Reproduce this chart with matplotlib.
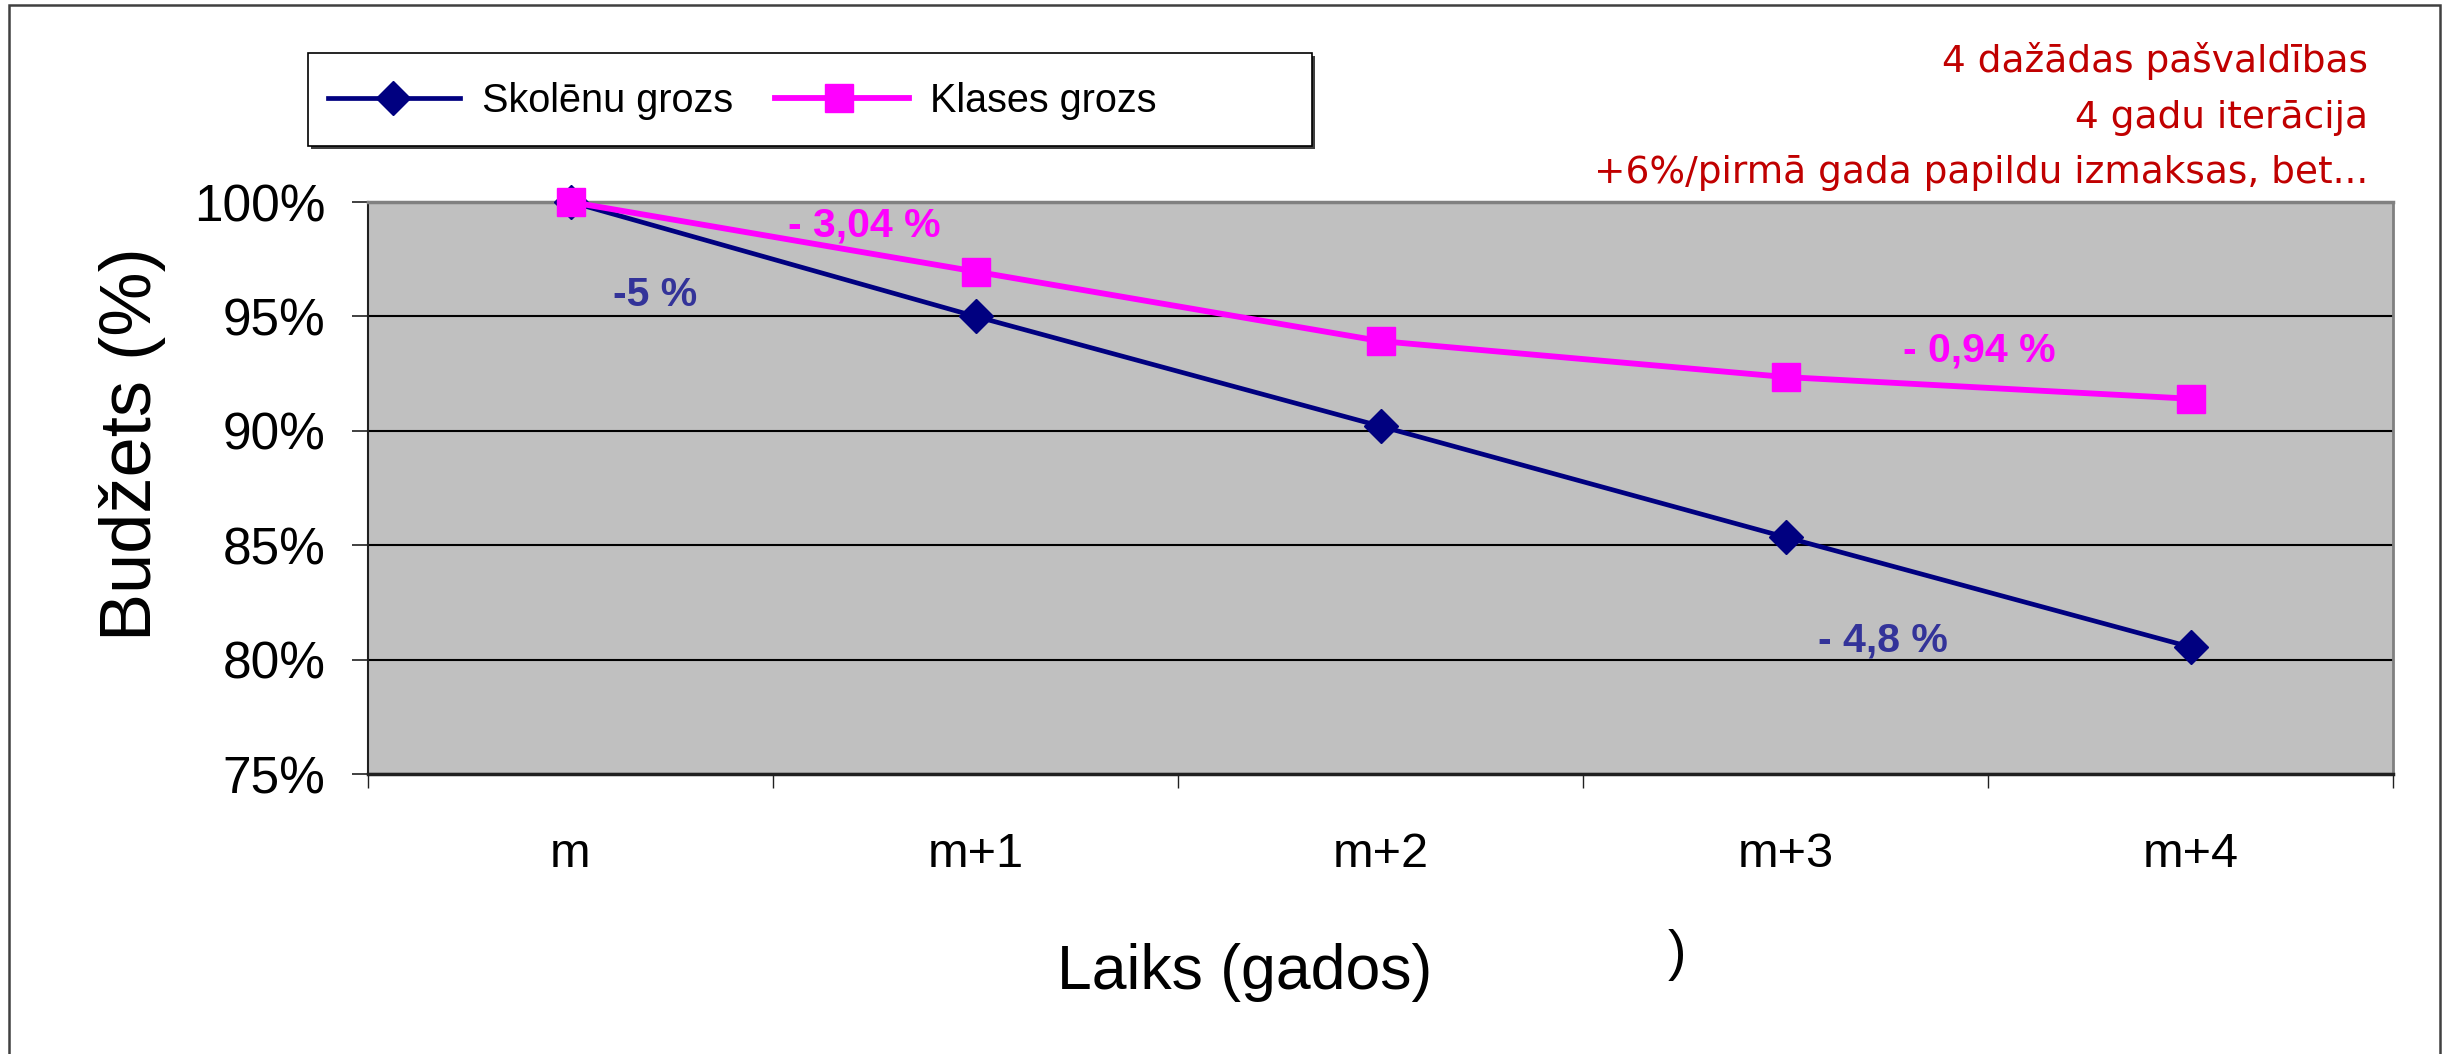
import matplotlib
matplotlib.use("Agg")
import matplotlib.pyplot as plt
from matplotlib.patches import Rectangle
from matplotlib.lines import Line2D

# ---------------- data ----------------
categories = ["m", "m+1", "m+2", "m+3", "m+4"]
skolenu = [100.0, 95.0, 90.2, 85.35, 80.55]
klases = [100.0, 96.96, 93.92, 92.35, 91.4]
series_names = ["Skolēnu grozs", "Klases grozs"]
yticks = [75, 80, 85, 90, 95, 100]
notes = ["4 dažādas pašvaldības", "4 gadu iterācija",
         "+6%/pirmā gada papildu izmaksas, bet..."]
ann_texts = ["-5 %", "- 3,04 %", "- 0,94 %", "- 4,8 %"]

# ---------------- fonts ----------------
ARIAL = "Liberation Sans"
NOTE_FONT = "DejaVu Sans"

W, H = 2453, 1054
fig = plt.figure(figsize=(W / 100, H / 100), dpi=100)
fig.patch.set_facecolor("white")


def fx(px):
    return px / W


def fy(py):
    return 1 - py / H


# outer frame
fig.patches.append(Rectangle((fx(9), fy(1100)), fx(2440) - fx(9), fy(5) - fy(1100),
                             transform=fig.transFigure, fill=False,
                             edgecolor="#404040", lw=1.8, zorder=0))

NAVY = "#000080"
MAG = "#FF00FF"
D_MS, S_MS = 17, 20.5
N_LW, M_LW = 3.4, 4.2

ax = fig.add_axes([fx(368), fy(774), fx(2393) - fx(368), fy(202) - fy(774)])
ax.set_facecolor("#C0C0C0")
x = [i + 0.5 for i in range(len(categories))]
ax.plot(x, skolenu, color=NAVY, lw=N_LW, marker="D", markersize=D_MS,
        markerfacecolor=NAVY, markeredgecolor=NAVY, zorder=3, clip_on=False)
ax.plot(x, klases, color=MAG, lw=M_LW, marker="s", markersize=S_MS,
        markerfacecolor=MAG, markeredgecolor=MAG, zorder=4, clip_on=False)

ax.set_xlim(0, len(categories))
ax.set_ylim(75, 100)
ax.set_yticks(yticks)
ax.set_yticklabels([f"{v}%" for v in yticks], fontfamily=ARIAL, fontsize=37)
ax.yaxis.grid(True, color="black", lw=1.5)
ax.set_axisbelow(True)
ax.tick_params(axis="y", length=11.5, width=1.2, pad=19, color="#202020")

ax.set_xticks(range(len(categories) + 1))
ax.set_xticklabels([])
ax.set_xticks(x, minor=True)
ax.set_xticklabels(categories, minor=True, fontfamily=ARIAL, fontsize=35)
ax.tick_params(axis="x", which="major", length=10, width=1.0, color="#202020")
ax.tick_params(axis="x", which="minor", length=0, pad=42)

for s, c, lw in [("left", "#202020", 1.5), ("bottom", "#202020", 2.5),
                 ("top", "#808080", 2.5), ("right", "#808080", 2.0)]:
    ax.spines[s].set_color(c)
    ax.spines[s].set_linewidth(lw)

# annotations (data coordinates)
ann_pos = [(0.709, 95.95), (1.225, 98.97), (3.978, 93.52), (3.741, 80.85)]
ann_col = ["#333399", MAG, MAG, "#333399"]
for t, (px, py), c in zip(ann_texts, ann_pos, ann_col):
    ax.text(px, py, t, color=c, fontsize=29.5, fontweight="bold", fontfamily=ARIAL,
            ha="center", va="center", zorder=5)

# axis titles
fig.text(fx(132), fy(444), "Budžets (%)", rotation=90, ha="center", va="center",
         fontfamily=ARIAL, fontsize=52)
fig.text(fx(1245), fy(972), "Laiks (gados)", ha="center", va="center",
         fontfamily=ARIAL, fontsize=45)
fig.text(fx(1677), fy(955), ")", ha="center", va="center",
         fontfamily=ARIAL, fontsize=40)

# notes in red
note_y = [72, 128, 183]
for t, yy in zip(notes, note_y):
    fig.text(fx(2368), fy(yy), t, ha="right", va="baseline", color="#C00000",
             fontfamily=NOTE_FONT, fontsize=27)

# legend (manual box)
fig.patches.append(Rectangle((fx(311), fy(149)), fx(1315) - fx(311), fy(56) - fy(149),
                             transform=fig.transFigure, facecolor="#404040",
                             edgecolor="none", zorder=1))
fig.patches.append(Rectangle((fx(308), fy(146)), fx(1312) - fx(308), fy(53) - fy(146),
                             transform=fig.transFigure, facecolor="white",
                             edgecolor="black", lw=1.2, zorder=2))
leg = [(328, 460, 393, NAVY, "D", D_MS, N_LW, 482, series_names[0]),
       (775, 909, 839, MAG, "s", S_MS, M_LW, 930, series_names[1])]
for x0, x1, xm, c, mk, ms, lw, xt, label in leg:
    fig.lines.append(Line2D([fx(x0), fx(x1)], [fy(98), fy(98)], transform=fig.transFigure,
                            color=c, lw=lw, zorder=3))
    fig.lines.append(Line2D([fx(xm)], [fy(98)], transform=fig.transFigure, color=c,
                            marker=mk, markersize=ms, markerfacecolor=c,
                            markeredgecolor=c, zorder=4))
    fig.text(fx(xt), fy(112), label, ha="left", va="baseline", fontfamily=ARIAL,
             fontsize=28.5, zorder=5)

fig.savefig("out.png", dpi=100, facecolor="white")
